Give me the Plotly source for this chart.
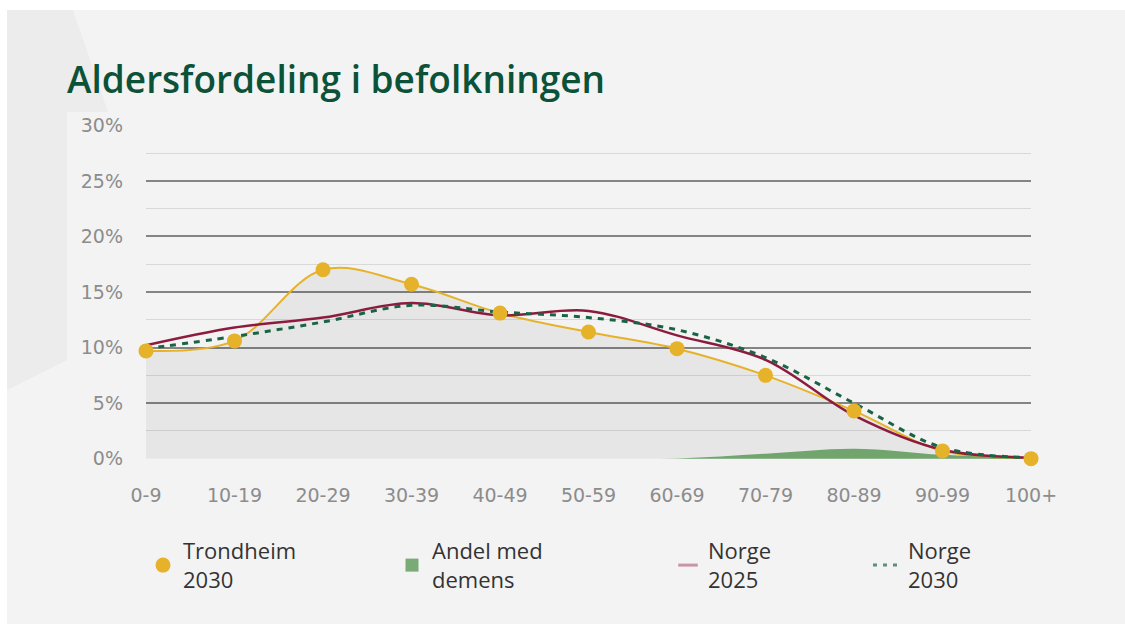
import plotly.graph_objects as go

categories = ["0-9", "10-19", "20-29", "30-39", "40-49", "50-59", "60-69", "70-79", "80-89", "90-99", "100+"]
trondheim_2030 = [9.7, 10.6, 17.0, 15.7, 13.1, 11.4, 9.9, 7.5, 4.3, 0.7, 0.0]
andel_demens = [0.0, 0.0, 0.0, 0.0, 0.0, 0.0, 0.02, 0.45, 0.9, 0.35, 0.05]
norge_2025 = [10.2, 11.8, 12.7, 14.0, 12.9, 13.3, 11.1, 8.9, 3.9, 0.8, 0.1]
norge_2030 = [9.9, 11.0, 12.3, 13.8, 13.2, 12.7, 11.6, 9.1, 5.0, 1.0, 0.1]
y_ticks = [0, 5, 10, 15, 20, 25, 30]
y_ticktext = ["0%", "5%", "10%", "15%", "20%", "25%", "30%"]

x = list(range(len(categories)))

W, H = 1125, 624
L, R, T, B = 146, 1031, 125, 459


def px(xp):
    return (xp - L) / (R - L)


def py(yp):
    return (B - yp) / (B - T)


GOLD = "#e6b229"
fig = go.Figure()

fig.add_trace(go.Scatter(
    x=x, y=trondheim_2030, name="Trondheim 2030 line", showlegend=False,
    mode="lines", line=dict(color=GOLD, width=2, shape="spline", smoothing=1.0),
    fill="tozeroy", fillcolor="rgba(0,0,0,0.05)", cliponaxis=False,
))
fig.add_trace(go.Scatter(
    x=x, y=andel_demens, name="Andel med<br>demens", showlegend=False,
    mode="lines", line=dict(color="#72a56e", width=0, shape="spline", smoothing=1.0),
    fill="tozeroy", fillcolor="#72a56e",
))
fig.add_trace(go.Scatter(
    x=x, y=norge_2025, name="Norge<br>2025", showlegend=False,
    mode="lines", line=dict(color="#8c1c3e", width=2.5, shape="spline", smoothing=1.0),
))
fig.add_trace(go.Scatter(
    x=x, y=norge_2030, name="Norge<br>2030", showlegend=False,
    mode="lines", line=dict(color="#1a6446", width=3, dash="6px,6px", shape="spline", smoothing=1.0),
))
fig.add_trace(go.Scatter(
    x=x, y=trondheim_2030, name="Trondheim<br>2030", legend="legend",
    mode="markers", marker=dict(size=15, color=GOLD), cliponaxis=False,
))
# legend-only entries
fig.add_trace(go.Scatter(
    x=[None], y=[None], name="Andel med<br>demens", legend="legend2", mode="markers",
    marker=dict(symbol="square", size=13, color="#7aab76"),
))
fig.add_trace(go.Scatter(
    x=[None], y=[None], name="Norge<br>2025", legend="legend3", mode="markers",
    marker=dict(symbol="line-ew-open", size=14, color="#c895a4", line=dict(color="#c895a4", width=3)),
))
fig.add_trace(go.Scatter(
    x=[None], y=[None], name="Norge<br>2030", legend="legend4", mode="lines",
    line=dict(color="#5f8f79", width=3, dash="4px,6px"),
))

shapes = [
    dict(type="rect", xref="paper", yref="paper", x0=px(7), x1=px(W + 5), y0=py(10), y1=py(H + 5),
         fillcolor="#f3f3f3", line=dict(width=0), layer="below"),
    dict(type="path", xref="paper", yref="paper",
         path=f"M {px(7)},{py(10)} L {px(73)},{py(10)} L {px(108)},{py(112)} L {px(67)},{py(112)} "
              f"L {px(67)},{py(360)} L {px(7)},{py(390)} Z",
         fillcolor="#ececec", line=dict(width=0), layer="below"),
]

TICKFONT = dict(family="DejaVu Sans", size=19, color="#8c8c8c")


def legend_at(xpix):
    return dict(orientation="h", xref="container", yref="container",
                x=xpix / W, xanchor="left", y=1 - 530 / H, yanchor="top",
                font=dict(family="Open Sans", size=22, color="#333333"),
                bgcolor="rgba(0,0,0,0)")


fig.update_layout(
    width=W, height=H,
    margin=dict(l=L, r=W - R, t=T, b=H - B, pad=0, autoexpand=False),
    paper_bgcolor="white", plot_bgcolor="rgba(0,0,0,0)",
    shapes=shapes,
    title=dict(text="Aldersfordeling i befolkningen", x=67 / W, xanchor="left",
               y=1 - 80 / H, yanchor="middle", xref="container", yref="container",
               font=dict(family="Open Sans", size=37, color="#0b5238", weight=600)),
    showlegend=True,
    legend=legend_at(143),
    legend2=legend_at(392),
    legend3=legend_at(668),
    legend4=legend_at(868),
    xaxis=dict(range=[0, 10], tickvals=x, ticktext=categories, showgrid=False, zeroline=False,
               showline=False, ticks="", ticklabelstandoff=23, tickfont=TICKFONT),
    yaxis=dict(range=[-0.03, 30.03], tickvals=y_ticks, ticktext=y_ticktext, showgrid=True,
               gridcolor="#848484", gridwidth=1.6, zeroline=False, showline=False, ticks="",
               ticklabelstandoff=22,
               minor=dict(dtick=2.5, showgrid=True, gridcolor="#d8d8d8", gridwidth=1.4),
               tickfont=TICKFONT),
)

fig.write_html("out.html", config={"displayModeBar": False},
               post_script="document.body.style.margin='0';document.body.style.overflow='hidden';")
